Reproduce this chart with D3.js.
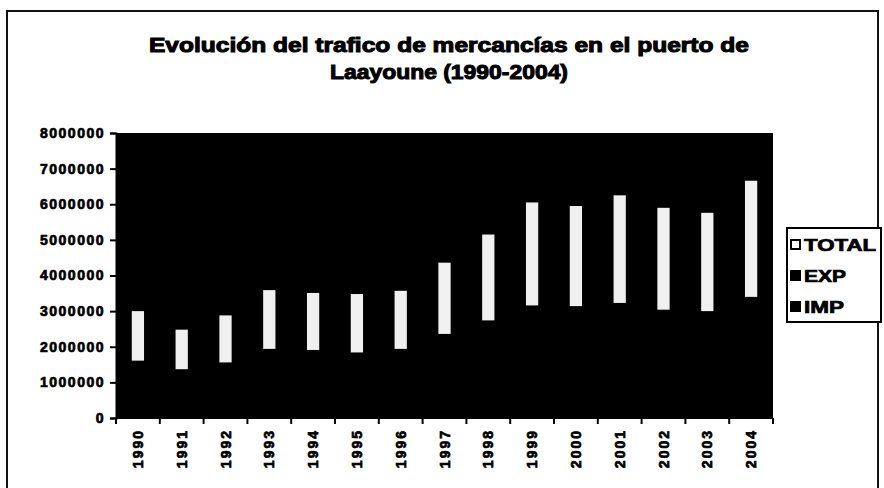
<!DOCTYPE html>
<html>
<head>
<meta charset="utf-8">
<script src="https://cdn.jsdelivr.net/npm/d3@7"></script>
<style>
  body { margin: 0; background: #fff; }
  text { font-family: "Liberation Sans", Arial, sans-serif; font-weight: bold; fill: #000; stroke: #000; stroke-width: 0.7px; }
</style>
</head>
<body>
<script>
// Tráfico portuario de Laayoune, toneladas
var years = ["1990","1991","1992","1993","1994","1995","1996","1997","1998","1999","2000","2001","2002","2003","2004"];
var imp   = [ 880000,  760000,  860000, 1060000, 1050000, 1010000, 1060000, 1300000, 1500000, 1740000, 1720000, 1770000, 1670000, 1650000, 1870000];
var exp   = [ 730000,  610000,  700000,  880000,  860000,  830000,  880000, 1060000, 1240000, 1420000, 1420000, 1460000, 1370000, 1350000, 1530000];
var total = [1390000, 1110000, 1320000, 1650000, 1600000, 1640000, 1630000, 2000000, 2410000, 2890000, 2810000, 3020000, 2860000, 2760000, 3260000];
var series = ["IMP", "EXP", "TOTAL"];
var yTicks = [0,1000000,2000000,3000000,4000000,5000000,6000000,7000000,8000000];

var w = 884, h = 488;
var m = {left: 116, top: 133, right: 111, bottom: 70};

var svg = d3.select("body").append("svg").attr("width", w).attr("height", h);

// marco del gráfico
svg.append("rect").attr("x", 7).attr("y", 11).attr("width", 871).attr("height", 490)
  .attr("fill", "#fff").attr("stroke", "#111").attr("stroke-width", 2);

svg.append("text").attr("x", 449).attr("y", 52).attr("text-anchor", "middle")
  .style("font-size", "20px").style("stroke-width", "1px").attr("textLength", 600).attr("lengthAdjust", "spacingAndGlyphs")
  .text("Evolución del trafico de mercancías en el puerto de");
svg.append("text").attr("x", 449).attr("y", 79).attr("text-anchor", "middle")
  .style("font-size", "20px").style("stroke-width", "1px").attr("textLength", 238).attr("lengthAdjust", "spacingAndGlyphs")
  .text("Laayoune (1990-2004)");

var x = d3.scaleBand().domain(years).range([m.left, w - m.right]).paddingInner(0.72).paddingOuter(0.36);
var y = d3.scaleLinear().domain([0, 8000000]).range([418, m.top]);

svg.append("rect").attr("x", m.left).attr("y", m.top)
  .attr("width", w - m.right - m.left).attr("height", 418 - m.top).attr("fill", "#000");

var rows = years.map(function(yr, i) { return {year: yr, IMP: imp[i], EXP: exp[i], TOTAL: total[i]}; });
var stack = d3.stack().keys(series)(rows);
var color = d3.scaleOrdinal().domain(series).range(["#000", "#000", "#f0f0f0"]);

svg.selectAll("g.serie").data(stack).enter().append("g").attr("class", "serie")
  .attr("fill", function(d) { return color(d.key); })
  .selectAll("rect").data(function(d) { return d; }).enter().append("rect")
  .attr("x", function(d) { return x(d.data.year); })
  .attr("width", x.bandwidth())
  .attr("y", function(d) { return y(d[1]); })
  .attr("height", function(d) { return y(d[0]) - y(d[1]); });

// eje Y
var yAxis = svg.append("g").attr("transform", "translate(" + m.left + ",0)")
  .call(d3.axisLeft(y).tickValues(yTicks).tickSize(6).tickPadding(5).tickFormat(d3.format("d")));
yAxis.select(".domain").attr("stroke-width", 2);
yAxis.selectAll("line").attr("stroke-width", 2);
yAxis.selectAll("text").style("font-size", "14px").style("letter-spacing", "1.5px");

// eje X, marcas entre categorías
var xAxis = svg.append("g").attr("transform", "translate(0,418)");
xAxis.append("line").attr("x1", m.left).attr("x2", w - m.right).attr("stroke", "#000").attr("stroke-width", 2);
xAxis.selectAll("line.tk").data(d3.range(years.length + 1)).enter().append("line").attr("class", "tk")
  .attr("x1", function(i) { return m.left + i * (w - m.right - m.left) / years.length; })
  .attr("x2", function(i) { return m.left + i * (w - m.right - m.left) / years.length; })
  .attr("y1", 0).attr("y2", 6).attr("stroke", "#000").attr("stroke-width", 2);
xAxis.selectAll("text").data(years).enter().append("text")
  .attr("transform", function(d) { return "translate(" + (x(d) + x.bandwidth() / 2 + 5) + ",11) rotate(-90)"; })
  .attr("text-anchor", "end").style("font-size", "14px").style("letter-spacing", "2px")
  .text(function(d) { return d; });

// leyenda
var leg = svg.append("g").attr("transform", "translate(787,228)");
leg.append("rect").attr("width", 94).attr("height", 94).attr("fill", "#fff").attr("stroke", "#000").attr("stroke-width", 2);
var items = ["TOTAL", "EXP", "IMP"];
var itemLen = [72, 42, 40];
items.forEach(function(k, i) {
  var g = leg.append("g").attr("transform", "translate(4," + (17 + i * 31) + ")");
  g.append("rect").attr("x", 0).attr("y", -5).attr("width", 9).attr("height", 9)
    .attr("fill", k === "TOTAL" ? "#fff" : "#000").attr("stroke", "#000").attr("stroke-width", 2);
  g.append("text").attr("x", 13).attr("y", 6).style("font-size", "16px")
    .attr("textLength", itemLen[i]).attr("lengthAdjust", "spacingAndGlyphs").text(k);
});
</script>
</body>
</html>
